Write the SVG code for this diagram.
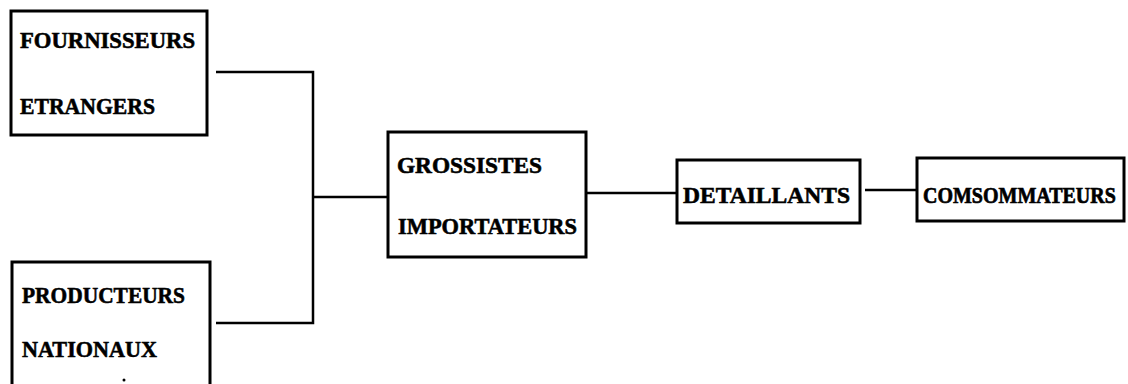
<svg xmlns="http://www.w3.org/2000/svg" width="1128" height="384" viewBox="0 0 1128 384">
<style>
.box{fill:#fff;stroke:#000;stroke-width:3}
.t{font-family:"Liberation Serif","Times New Roman",serif;font-weight:bold;font-size:24px;fill:#000;stroke:#000;stroke-width:0.6}
.c{fill:none;stroke:#000;stroke-width:2.5}
</style>
<rect width="1128" height="384" fill="#fff"/>
<g id="connectors">
<polyline class="c" points="216,72 313,72 313,323 216,323"/>
<line class="c" x1="313" y1="197" x2="388" y2="197"/>
<line class="c" x1="586" y1="193" x2="677" y2="193"/>
<line class="c" x1="865" y1="190" x2="917" y2="190"/>
</g>
<g id="fournisseurs">
<rect class="box" x="11" y="11" width="196" height="124"/>
<text class="t" x="20" y="48" textLength="175" lengthAdjust="spacingAndGlyphs">FOURNISSEURS</text>
<text class="t" x="20" y="114" textLength="135" lengthAdjust="spacingAndGlyphs">ETRANGERS</text>
</g>
<g id="producteurs">
<rect class="box" x="12" y="262" width="198" height="130"/>
<text class="t" x="22" y="303" textLength="163" lengthAdjust="spacingAndGlyphs">PRODUCTEURS</text>
<text class="t" x="22" y="357" textLength="135" lengthAdjust="spacingAndGlyphs">NATIONAUX</text>
<circle cx="124" cy="380" r="1.5" fill="#000"/>
</g>
<g id="grossistes">
<rect class="box" x="388" y="132" width="198" height="125"/>
<text class="t" x="397" y="173" textLength="145" lengthAdjust="spacingAndGlyphs">GROSSISTES</text>
<text class="t" x="398" y="234" textLength="179" lengthAdjust="spacingAndGlyphs">IMPORTATEURS</text>
</g>
<g id="detaillants">
<rect class="box" x="677" y="160" width="183" height="63"/>
<text class="t" x="683" y="203" textLength="167" lengthAdjust="spacingAndGlyphs">DETAILLANTS</text>
</g>
<g id="consommateurs">
<rect class="box" x="917" y="158" width="207" height="63"/>
<text class="t" transform="translate(923,203) scale(1,1.2)" x="0" y="0" style="font-size:20px">COMSOMMATEURS</text>
</g>
</svg>
